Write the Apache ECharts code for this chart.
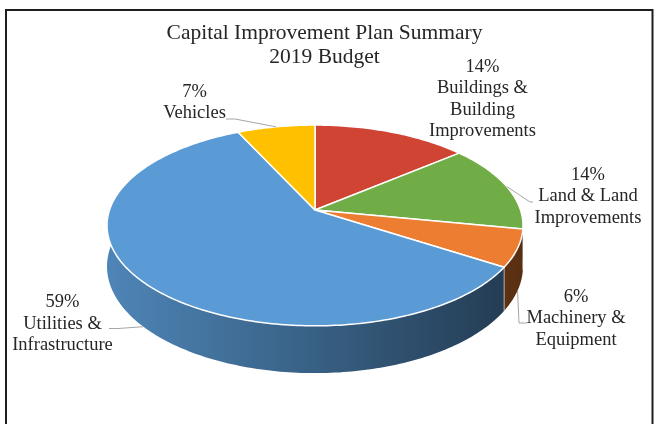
<!DOCTYPE html>
<html>
<head>
<meta charset="utf-8">
<script src="https://cdn.jsdelivr.net/npm/echarts@6/dist/echarts.min.js"></script>
<style>
  html, body { margin: 0; padding: 0; background: #ffffff; }
  #chart { width: 661px; height: 424px; }
</style>
</head>
<body>
<div id="chart"></div>
<script>
// Budget shares (percent), listed clockwise from the top of the pie
const categories = [
  'Buildings &\nBuilding\nImprovements',
  'Land & Land\nImprovements',
  'Machinery &\nEquipment',
  'Utilities &\nInfrastructure',
  'Vehicles'
];
const values = [14, 14, 6, 59, 7];
const colors = ['#D04434', '#70AD47', '#ED7D31', '#5B9BD5', '#FFC000'];
const titleLines = ['Capital Improvement Plan Summary', '2019 Budget'];

// Tilted-disc projection used to fake the 3D pie
const VIEW = { cx: 315, cy: 210, A: 205.5, B: 98, k: 0.154, depth: 40, xL: 107, xR: 523 };

// Label placement (text block centre and leader elbow points)
const LABEL_POS = [
  { x: 482.5, y: 99, leader: null },
  { x: 588, y: 196.5, leader: [[530, 202], [533, 202]] },
  { x: 576, y: 318.5, leader: [[519, 323], [527, 323]] },
  { x: 62.5, y: 324, leader: [[118, 328.5], [109, 328.5]] },
  { x: 194.5, y: 102.5, leader: [[235, 119], [226, 119]] }
];

const FONT_FAMILY = '"Liberation Serif", "Times New Roman", serif';
const TEXT_COLOR = '#262626';

const total = values.reduce((a, b) => a + b, 0);
const startDeg = [];
values.reduce((acc, v, i) => { startDeg[i] = acc / total * 360; return acc + v; }, 0);

function proj(deg, down) {
  const t = deg * Math.PI / 180;
  const u = Math.sin(t), v = -Math.cos(t);
  const s = 1 / (1 - VIEW.k * v);
  return [VIEW.cx + VIEW.A * u * s, VIEW.cy + VIEW.B * v * s + (down ? VIEW.depth * s : 0)];
}
function arc(a0, a1, down) {
  const pts = [];
  const n = Math.max(2, Math.ceil(Math.abs(a1 - a0)));
  for (let j = 0; j <= n; j++) pts.push(proj(a0 + (a1 - a0) * j / n, down));
  return pts;
}
function shade(hex, f) {
  const c = parseInt(hex.slice(1), 16);
  const r = Math.round(((c >> 16) & 255) * f), g = Math.round(((c >> 8) & 255) * f), b = Math.round((c & 255) * f);
  return 'rgb(' + r + ',' + g + ',' + b + ')';
}
function sliceAngles(idx, api) {
  const a0 = startDeg[idx];
  return [a0, a0 + api.value(0) / total * 360];
}

const chart = echarts.init(document.getElementById('chart'), null, { renderer: 'canvas' });

const seriesData = values.map((v, i) => ({ value: v, name: categories[i] }));

const option = {
  backgroundColor: '#ffffff',
  animation: false,
  graphic: [
    {
      type: 'rect', silent: true, z: 0,
      shape: { x: 6, y: 10, width: 646.5, height: 440 },
      style: { fill: 'none', stroke: '#1e1e1e', lineWidth: 2 }
    },
    {
      type: 'text', z: 10,
      x: 324.5, y: 45.5,
      style: {
        text: titleLines.join('\n'),
        font: '21.5px ' + FONT_FAMILY,
        fill: TEXT_COLOR,
        align: 'center', verticalAlign: 'middle',
        textAlign: 'center', textVerticalAlign: 'middle',
        lineHeight: 24
      }
    }
  ],
  series: [
    {
      // side walls of the disc
      type: 'custom',
      coordinateSystem: 'none',
      silent: true,
      z: 1,
      data: seriesData,
      renderItem: function (params, api) {
        const i = params.dataIndex;
        const [a0, a1] = sliceAngles(i, api);
        const top = arc(a0, a1, false);
        const bottom = arc(a0, a1, true).reverse();
        const base = colors[i];
        const grad = new echarts.graphic.LinearGradient(VIEW.xL, 0, VIEW.xR, 0, [
          { offset: 0, color: shade(base, 0.86) },
          { offset: 0.5, color: shade(base, 0.62) },
          { offset: 1, color: shade(base, 0.37) }
        ], true);
        const children = [{
          type: 'polygon',
          shape: { points: top.concat(bottom) },
          style: { fill: grad, stroke: null }
        }];
        // seam between neighbouring walls on the front face
        const t = a0 * Math.PI / 180;
        if (-Math.cos(t) > VIEW.k) {
          const p = proj(a0, false), q = proj(a0, true);
          children.push({
            type: 'line',
            shape: { x1: p[0], y1: p[1], x2: q[0], y2: q[1] },
            style: { stroke: 'rgba(255,255,255,0.55)', lineWidth: 1 }
          });
        }
        return { type: 'group', children: children };
      }
    },
    {
      // top faces, labels and leader lines
      type: 'custom',
      coordinateSystem: 'none',
      silent: true,
      z: 2,
      data: seriesData,
      renderItem: function (params, api) {
        const i = params.dataIndex;
        const [a0, a1] = sliceAngles(i, api);
        const face = [[VIEW.cx, VIEW.cy]].concat(arc(a0, a1, false));
        const children = [{
          type: 'polygon',
          shape: { points: face },
          style: { fill: colors[i], stroke: '#ffffff', lineWidth: 1.5, lineJoin: 'round' }
        }];
        const pct = Math.round(api.value(0) / total * 100) + '%';
        const lp = LABEL_POS[i];
        children.push({
          type: 'text',
          x: lp.x, y: lp.y,
          z2: 20,
          style: {
            text: pct + '\n' + categories[i],
            font: '18.5px ' + FONT_FAMILY,
            fill: TEXT_COLOR,
            align: 'center', verticalAlign: 'middle',
            textAlign: 'center', textVerticalAlign: 'middle',
            lineHeight: 21.5
          }
        });
        if (lp.leader) {
          const mid = (a0 + a1) / 2;
          const front = -Math.cos(mid * Math.PI / 180) > VIEW.k;
          const anchor = proj(mid, front);
          children.push({
            type: 'polyline',
            z2: 15,
            shape: { points: [anchor].concat(lp.leader) },
            style: { stroke: '#A6A6A6', lineWidth: 1, fill: null }
          });
        }
        return { type: 'group', children: children };
      }
    }
  ]
};

chart.setOption(option);
</script>
</body>
</html>
